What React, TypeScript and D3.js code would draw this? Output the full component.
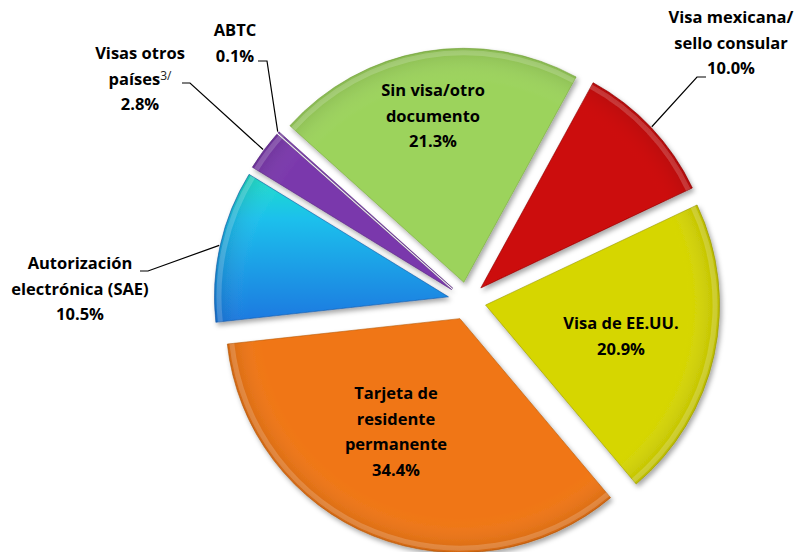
import React from "react";
import * as d3 from "d3";

const categories = [
  "Sin visa/otro documento",
  "Visa mexicana/ sello consular",
  "Visa de EE.UU.",
  "Tarjeta de residente permanente",
  "Autorización electrónica (SAE)",
  "Visas otros países",
  "ABTC",
];
const values = [21.3, 10.0, 20.9, 34.4, 10.5, 2.8, 0.1];
const colors = ["#9CD35C", "#CC0808", "#D6D600", "#F07614", "url(#blueGrad)", "#7A38AC", "#7A38AC"];
const edgeColors = ["#78A83C", "#8E0606", "#9A9A00", "#B85A08", "#1559A8", "#5A2A80", "#5A2A80"];
const labelLines = [
  ["Sin visa/otro", "documento", "21.3%"],
  ["Visa mexicana/", "sello consular", "10.0%"],
  ["Visa de EE.UU.", "20.9%"],
  ["Tarjeta de", "residente", "permanente", "34.4%"],
  ["Autorización", "electrónica (SAE)", "10.5%"],
  ["Visas otros", "países", "2.8%"],
  ["ABTC", "0.1%"],
];

const W = 799;
const H = 552;
const cx = 467;
const cy = 301;
const R = 234;
const explode = 19;
const lineH = 25.5;

type Lay = { inside: boolean; x: number; y: number; ex?: number; ey?: number; tx?: number; ty?: number };
const layout: Lay[] = [
  { inside: true, x: 433, y: 96 },
  { inside: false, x: 731, y: 23, ex: 697, ey: 77, tx: 706, ty: 77 },
  { inside: true, x: 621, y: 329 },
  { inside: true, x: 396, y: 399 },
  { inside: false, x: 80, y: 269, ex: 148, ey: 271, tx: 140, ty: 271 },
  { inside: false, x: 140, y: 59, ex: 190, ey: 83, tx: 182, ty: 83 },
  { inside: false, x: 235, y: 36, ex: 267, ey: 61, tx: 258, ty: 61 },
];

export default function App() {
  const start = (-48 * Math.PI) / 180;
  const pie = d3
    .pie<number>()
    .sort(null)
    .startAngle(start)
    .endAngle(start + 2 * Math.PI)
    .value((d) => d);
  const arcs = pie(values);
  const arc = d3.arc<d3.PieArcDatum<number>>().innerRadius(0).outerRadius(R);
  const rimArc = d3.arc<d3.PieArcDatum<number>>().innerRadius(R - 7).outerRadius(R - 2);
  const font = "'Open Sans', sans-serif";

  return (
    <svg width={W} height={H} style={{ position: "absolute", left: 0, top: 0, background: "#fff" }}>
      <defs>
        <linearGradient id="blueGrad" x1="0" y1="0" x2="0" y2="1">
          <stop offset="0%" stopColor="#20E0C8" />
          <stop offset="30%" stopColor="#1CC0EC" />
          <stop offset="100%" stopColor="#1A78E0" />
        </linearGradient>
        <radialGradient id="shine" cx="0" cy="0" r={R} gradientUnits="userSpaceOnUse">
          <stop offset="0%" stopColor="#fff" stopOpacity="0" />
          <stop offset="85%" stopColor="#fff" stopOpacity="0" />
          <stop offset="100%" stopColor="#000" stopOpacity="0.12" />
        </radialGradient>
        <filter id="shadow" x="-20%" y="-20%" width="140%" height="140%">
          <feDropShadow dx="2" dy="3" stdDeviation="2.5" floodColor="#000" floodOpacity="0.35" />
        </filter>
      </defs>
      {arcs.map((a, i) => {
        const mid = (a.startAngle + a.endAngle) / 2;
        const ox = cx + explode * Math.sin(mid);
        const oy = cy - explode * Math.cos(mid);
        return (
          <g key={i} transform={`translate(${ox},${oy})`} filter={i < 6 ? "url(#shadow)" : undefined}>
            <path d={arc(a) || ""} fill={colors[i]} stroke={edgeColors[i]} strokeWidth={1} strokeOpacity={0.6} />
            <path d={arc(a) || ""} fill="url(#shine)" />
            <path d={rimArc(a) || ""} fill="#fff" fillOpacity={0.18} />
          </g>
        );
      })}
      {arcs.map((a, i) => {
        const L = layout[i];
        const lines = labelLines[i];
        const mid = (a.startAngle + a.endAngle) / 2;
        const ox = cx + explode * Math.sin(mid);
        const oy = cy - explode * Math.cos(mid);
        const sx = ox + (R + 1) * Math.sin(mid);
        const sy = oy - (R + 1) * Math.cos(mid);
        return (
          <g key={"l" + i}>
            {!L.inside && (
              <polyline
                points={`${sx},${sy} ${L.ex},${L.ey} ${L.tx},${L.ty}`}
                fill="none"
                stroke="#000"
                strokeWidth={1.2}
              />
            )}
            {lines.map((t, k) => (
              <text
                key={k}
                x={L.x}
                y={L.y + k * lineH}
                textAnchor="middle"
                fontFamily={font}
                fontWeight="bold"
                fontSize={16.5}
                fill="#000"
              >
                {t}
                {i === 5 && k === 1 ? (
                  <tspan fontSize={12} fontWeight="normal" dy={-5} fill="#222">
                    3/
                  </tspan>
                ) : null}
              </text>
            ))}
          </g>
        );
      })}
    </svg>
  );
}
